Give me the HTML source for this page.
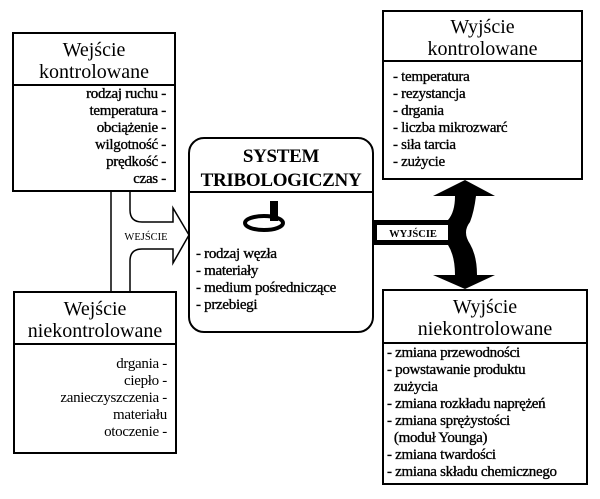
<!DOCTYPE html>
<html><head><meta charset="utf-8"><style>
body{margin:0;background:#fff;}
.w{position:relative;width:600px;height:499px;overflow:hidden;font-family:"Liberation Serif",serif;color:#000;}
.b{position:absolute;border:2px solid #000;box-sizing:border-box;background:#fff;}
.h{position:absolute;left:0;right:0;text-align:center;font-size:20px;line-height:22px;border-bottom:2px solid #000;}
.l{position:absolute;font-size:15px;line-height:17px;white-space:nowrap;letter-spacing:-0.3px;-webkit-text-stroke:0.35px #000;}
</style></head><body><div class="w">
<svg width="600" height="499" style="position:absolute;left:0;top:0">
<line x1="111" y1="190" x2="111" y2="292" stroke="#000" stroke-width="1.5"/>
<path d="M130 190 L130 210 Q130 222 142 222 L173 222 L173 208 L189 235 L173 263 L173 249 L142 249 Q130 249 130 261 L130 292" fill="none" stroke="#000" stroke-width="1.5"/>
<rect x="372" y="220" width="86" height="25" fill="#000"/>
<rect x="377" y="225" width="73" height="15" fill="#fff"/>
<path d="M465 180 L495 196 L476 196 Q474 212 470 222 Q462 232 470 244 Q477 256 477 275 L495 275 L465 289 L433 275 L455 275 Q455 256 448 245 L448 220 Q455 212 455 196 L433 196 Z" fill="#000"/>
<text x="413" y="237" font-size="10.5" text-anchor="middle" font-family="Liberation Serif" font-weight="bold">WYJŚCIE</text>
<text x="146" y="240" font-size="10.5" text-anchor="middle" font-family="Liberation Serif">WEJŚCIE</text>
</svg>
<div class="b" style="left:12px;top:32px;width:164px;height:160px;"><div class="h" style="top:5px;height:45px;">Wejście<br>kontrolowane</div>
<div class="l" style="right:8px;top:52px;text-align:right;">rodzaj ruchu -<br>temperatura -<br>obciążenie -<br>wilgotność -<br>prędkość -<br>czas -</div></div>
<div class="b" style="left:13px;top:291px;width:164px;height:163px;"><div class="h" style="top:5px;height:45px;">Wejście<br>niekontrolowane</div>
<div class="l" style="right:8px;top:63px;text-align:right;-webkit-text-stroke:0;">drgania -<br>ciepło -<br>zanieczyszczenia -<br>materiału<br>otoczenie -</div></div>
<div class="b" style="left:188px;top:137px;width:186px;height:196px;border-radius:16px;border-width:2.5px;"><div class="h" style="top:6px;height:46px;font-weight:bold;font-size:19px;line-height:24px;letter-spacing:-0.3px;">SYSTEM<br>TRIBOLOGICZNY</div>
<svg style="position:absolute;left:52px;top:62px" width="60" height="36"><rect x="28" y="0" width="8" height="20" fill="#000"/><ellipse cx="22" cy="22" rx="19" ry="7" fill="none" stroke="#000" stroke-width="4"/></svg>
<div class="l" style="left:6px;top:107px;">- rodzaj węzła<br>- materiały<br>- medium pośredniczące<br>- przebiegi</div></div>
<div class="b" style="left:382px;top:10px;width:201px;height:170px;"><div class="h" style="top:4px;height:44px;">Wyjście<br>kontrolowane</div>
<div class="l" style="left:9px;top:57px;">- temperatura<br>- rezystancja<br>- drgania<br>- liczba mikrozwarć<br>- siła tarcia<br>- zużycie</div></div>
<div class="b" style="left:382px;top:289px;width:206px;height:196px;"><div class="h" style="top:5px;height:46px;">Wyjście<br>niekontrolowane</div>
<div class="l" style="left:3px;top:54px;">- zmiana przewodności<br>- powstawanie produktu<br>&nbsp;&nbsp;zużycia<br>- zmiana rozkładu naprężeń<br>- zmiana sprężystości<br>&nbsp;&nbsp;(moduł Younga)<br>- zmiana twardości<br>- zmiana składu chemicznego</div></div>
</div></body></html>
